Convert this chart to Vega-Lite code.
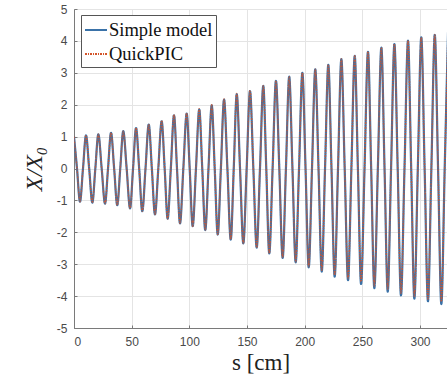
{
  "$schema": "https://vega.github.io/schema/vega-lite/v6.json",
  "width": 373,
  "height": 319,
  "autosize": {"type": "none"},
  "padding": {"left": 74, "top": 9, "right": 0, "bottom": 51},
  "background": "white",
  "config": {
    "view": {"stroke": "#7a7a7a", "strokeWidth": 1},
    "axis": {
      "labelFont": "Liberation Sans",
      "labelFontSize": 12,
      "labelColor": "#4a4a4a",
      "domainColor": "#7a7a7a",
      "tickColor": "#7a7a7a",
      "gridColor": "#e4e4e4",
      "gridWidth": 1,
      "titleFont": "Liberation Serif",
      "titleFontWeight": "normal",
      "titleColor": "#222222"
    }
  },
  "data": {
    "values": [
      {"s": 0, "Simple model": 1.0, "QuickPIC": 1.0},
      {"s": 2.6, "Simple model": 0, "QuickPIC": 0},
      {"s": 5.2, "Simple model": -1.04, "QuickPIC": -1.04},
      {"s": 7.8, "Simple model": 0, "QuickPIC": 0},
      {"s": 10.4, "Simple model": 1.04, "QuickPIC": 1.04},
      {"s": 13.15, "Simple model": 0, "QuickPIC": 0},
      {"s": 15.9, "Simple model": -1.07, "QuickPIC": -1.07},
      {"s": 18.5, "Simple model": 0, "QuickPIC": 0},
      {"s": 21.1, "Simple model": 1.07, "QuickPIC": 1.07},
      {"s": 24.0, "Simple model": 0, "QuickPIC": 0},
      {"s": 26.9, "Simple model": -1.1, "QuickPIC": -1.1},
      {"s": 29.5, "Simple model": 0, "QuickPIC": 0},
      {"s": 32.1, "Simple model": 1.12, "QuickPIC": 1.12},
      {"s": 34.8, "Simple model": 0, "QuickPIC": 0},
      {"s": 37.5, "Simple model": -1.15, "QuickPIC": -1.15},
      {"s": 40.1, "Simple model": 0, "QuickPIC": 0},
      {"s": 42.7, "Simple model": 1.17, "QuickPIC": 1.17},
      {"s": 45.65, "Simple model": 0, "QuickPIC": 0},
      {"s": 48.6, "Simple model": -1.25, "QuickPIC": -1.25},
      {"s": 51.2, "Simple model": 0, "QuickPIC": 0},
      {"s": 53.8, "Simple model": 1.27, "QuickPIC": 1.27},
      {"s": 56.5, "Simple model": 0, "QuickPIC": 0},
      {"s": 59.2, "Simple model": -1.34, "QuickPIC": -1.34},
      {"s": 62.0, "Simple model": 0, "QuickPIC": 0},
      {"s": 64.8, "Simple model": 1.38, "QuickPIC": 1.38},
      {"s": 67.5, "Simple model": 0, "QuickPIC": 0},
      {"s": 70.2, "Simple model": -1.44, "QuickPIC": -1.44},
      {"s": 73.1, "Simple model": 0, "QuickPIC": 0},
      {"s": 76.0, "Simple model": 1.48, "QuickPIC": 1.5},
      {"s": 78.6, "Simple model": 0, "QuickPIC": 0},
      {"s": 81.2, "Simple model": -1.57, "QuickPIC": -1.58},
      {"s": 83.95, "Simple model": 0, "QuickPIC": 0},
      {"s": 86.7, "Simple model": 1.67, "QuickPIC": 1.69},
      {"s": 89.3, "Simple model": 0, "QuickPIC": 0},
      {"s": 91.9, "Simple model": -1.72, "QuickPIC": -1.72},
      {"s": 94.8, "Simple model": 0, "QuickPIC": 0},
      {"s": 97.7, "Simple model": 1.72, "QuickPIC": 1.74},
      {"s": 100.3, "Simple model": 0, "QuickPIC": 0},
      {"s": 102.9, "Simple model": -1.81, "QuickPIC": -1.81},
      {"s": 105.75, "Simple model": 0, "QuickPIC": 0},
      {"s": 108.6, "Simple model": 1.85, "QuickPIC": 1.87},
      {"s": 111.2, "Simple model": 0, "QuickPIC": 0},
      {"s": 113.8, "Simple model": -1.93, "QuickPIC": -1.93},
      {"s": 116.6, "Simple model": 0, "QuickPIC": 0},
      {"s": 119.4, "Simple model": 1.98, "QuickPIC": 2.0},
      {"s": 122.0, "Simple model": 0, "QuickPIC": 0},
      {"s": 124.6, "Simple model": -2.07, "QuickPIC": -2.07},
      {"s": 127.35, "Simple model": 0, "QuickPIC": 0},
      {"s": 130.1, "Simple model": 2.16, "QuickPIC": 2.18},
      {"s": 133.0, "Simple model": 0, "QuickPIC": 0},
      {"s": 135.9, "Simple model": -2.23, "QuickPIC": -2.23},
      {"s": 138.5, "Simple model": 0, "QuickPIC": 0},
      {"s": 141.1, "Simple model": 2.33, "QuickPIC": 2.35},
      {"s": 143.95, "Simple model": 0, "QuickPIC": 0},
      {"s": 146.8, "Simple model": -2.35, "QuickPIC": -2.35},
      {"s": 149.7, "Simple model": 0, "QuickPIC": 0},
      {"s": 152.6, "Simple model": 2.43, "QuickPIC": 2.45},
      {"s": 155.5, "Simple model": 0, "QuickPIC": 0},
      {"s": 158.4, "Simple model": -2.48, "QuickPIC": -2.48},
      {"s": 161.25, "Simple model": 0, "QuickPIC": 0},
      {"s": 164.1, "Simple model": 2.59, "QuickPIC": 2.59},
      {"s": 166.7, "Simple model": 0, "QuickPIC": 0},
      {"s": 169.3, "Simple model": -2.66, "QuickPIC": -2.66},
      {"s": 172.2, "Simple model": 0, "QuickPIC": 0},
      {"s": 175.1, "Simple model": 2.75, "QuickPIC": 2.75},
      {"s": 178.0, "Simple model": 0, "QuickPIC": 0},
      {"s": 180.9, "Simple model": -2.8, "QuickPIC": -2.79},
      {"s": 183.75, "Simple model": 0, "QuickPIC": 0},
      {"s": 186.6, "Simple model": 2.88, "QuickPIC": 2.88},
      {"s": 189.4, "Simple model": 0, "QuickPIC": 0},
      {"s": 192.2, "Simple model": -2.94, "QuickPIC": -2.92},
      {"s": 195.1, "Simple model": 0, "QuickPIC": 0},
      {"s": 198.0, "Simple model": 3.0, "QuickPIC": 3.0},
      {"s": 200.75, "Simple model": 0, "QuickPIC": 0},
      {"s": 203.5, "Simple model": -3.1, "QuickPIC": -3.07},
      {"s": 206.35, "Simple model": 0, "QuickPIC": 0},
      {"s": 209.2, "Simple model": 3.11, "QuickPIC": 3.11},
      {"s": 212.0, "Simple model": 0, "QuickPIC": 0},
      {"s": 214.8, "Simple model": -3.23, "QuickPIC": -3.19},
      {"s": 217.65, "Simple model": 0, "QuickPIC": 0},
      {"s": 220.5, "Simple model": 3.25, "QuickPIC": 3.25},
      {"s": 223.25, "Simple model": 0, "QuickPIC": 0},
      {"s": 226.0, "Simple model": -3.39, "QuickPIC": -3.34},
      {"s": 228.9, "Simple model": 0, "QuickPIC": 0},
      {"s": 231.8, "Simple model": 3.43, "QuickPIC": 3.43},
      {"s": 234.7, "Simple model": 0, "QuickPIC": 0},
      {"s": 237.6, "Simple model": -3.5, "QuickPIC": -3.45},
      {"s": 240.5, "Simple model": 0, "QuickPIC": 0},
      {"s": 243.4, "Simple model": 3.53, "QuickPIC": 3.53},
      {"s": 246.15, "Simple model": 0, "QuickPIC": 0},
      {"s": 248.9, "Simple model": -3.62, "QuickPIC": -3.55},
      {"s": 251.9, "Simple model": 0, "QuickPIC": 0},
      {"s": 254.9, "Simple model": 3.66, "QuickPIC": 3.66},
      {"s": 257.65, "Simple model": 0, "QuickPIC": 0},
      {"s": 260.4, "Simple model": -3.75, "QuickPIC": -3.68},
      {"s": 263.45, "Simple model": 0, "QuickPIC": 0},
      {"s": 266.5, "Simple model": 3.79, "QuickPIC": 3.79},
      {"s": 269.25, "Simple model": 0, "QuickPIC": 0},
      {"s": 272.0, "Simple model": -3.86, "QuickPIC": -3.79},
      {"s": 274.9, "Simple model": 0, "QuickPIC": 0},
      {"s": 277.8, "Simple model": 3.9, "QuickPIC": 3.9},
      {"s": 280.65, "Simple model": 0, "QuickPIC": 0},
      {"s": 283.5, "Simple model": -3.98, "QuickPIC": -3.91},
      {"s": 286.55, "Simple model": 0, "QuickPIC": 0},
      {"s": 289.6, "Simple model": 4.01, "QuickPIC": 4.01},
      {"s": 292.35, "Simple model": 0, "QuickPIC": 0},
      {"s": 295.1, "Simple model": -4.08, "QuickPIC": -4.01},
      {"s": 298.1, "Simple model": 0, "QuickPIC": 0},
      {"s": 301.1, "Simple model": 4.11, "QuickPIC": 4.11},
      {"s": 304.0, "Simple model": 0, "QuickPIC": 0},
      {"s": 306.9, "Simple model": -4.16, "QuickPIC": -4.09},
      {"s": 309.85, "Simple model": 0, "QuickPIC": 0},
      {"s": 312.8, "Simple model": 4.19, "QuickPIC": 4.19},
      {"s": 315.65, "Simple model": 0, "QuickPIC": 0},
      {"s": 318.5, "Simple model": -4.25, "QuickPIC": -4.17},
      {"s": 321.4, "Simple model": 0, "QuickPIC": 0},
      {"s": 324.3, "Simple model": 4.27, "QuickPIC": 4.27}
    ]
  },
  "transform": [
    {"fold": ["Simple model", "QuickPIC"], "as": ["series", "value"]}
  ],
  "encoding": {
    "x": {
      "field": "s",
      "type": "quantitative",
      "scale": {"domain": [0, 323.4], "nice": false, "zero": false},
      "axis": {
        "values": [0, 50, 100, 150, 200, 250, 300],
        "title": "s  [cm]",
        "titleFontSize": 23,
        "titlePadding": 4,
        "labelPadding": 11,
        "tickSize": -3
      }
    },
    "y": {
      "field": "value",
      "type": "quantitative",
      "scale": {"domain": [-5, 5], "nice": false},
      "axis": {
        "values": [-5, -4, -3, -2, -1, 0, 1, 2, 3, 4, 5],
        "labelExpr": "'' + datum.value",
        "title": "X/X₀",
        "titleFontStyle": "italic",
        "titleFontSize": 24,
        "titlePadding": 10,
        "labelPadding": 10,
        "tickSize": -3
      }
    },
    "color": {
      "field": "series",
      "type": "nominal",
      "scale": {"domain": ["Simple model", "QuickPIC"], "range": ["#3a72a8", "#d4542a"]},
      "legend": {
        "title": null,
        "orient": "none",
        "legendX": 7,
        "legendY": 6,
        "direction": "vertical",
        "fillColor": "white",
        "strokeColor": "#555555",
        "padding": 3,
        "symbolType": "stroke",
        "symbolSize": 484,
        "symbolStrokeWidth": 2,
        "labelFont": "Liberation Serif",
        "labelFontSize": 18.5,
        "labelColor": "#111111",
        "labelOffset": 1,
        "rowPadding": 2
      }
    },
    "strokeDash": {
      "field": "series",
      "type": "nominal",
      "scale": {"domain": ["Simple model", "QuickPIC"], "range": [[1, 0], [2, 1, 1, 1]]},
      "legend": null
    }
  },
  "layer": [
    {
      "transform": [{"filter": {"field": "series", "equal": "Simple model"}}],
      "mark": {"type": "line", "interpolate": "monotone", "strokeWidth": 2.2, "clip": true}
    },
    {
      "transform": [{"filter": {"field": "series", "equal": "QuickPIC"}}],
      "mark": {"type": "line", "interpolate": "monotone", "strokeWidth": 1.6, "strokeOpacity": 0.8, "clip": true}
    }
  ]
}
